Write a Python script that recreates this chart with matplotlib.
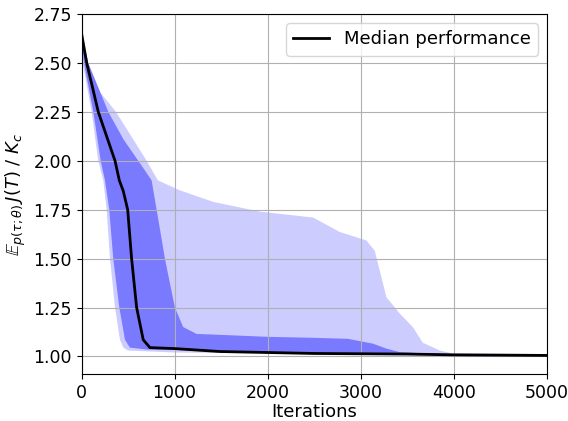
import numpy as np
import matplotlib
matplotlib.use('Agg')
import matplotlib.pyplot as plt

# --- Values ---

# Median performance curve
median_it = [0, 56, 180, 360, 406, 449, 496, 538, 592, 663, 735, 1000, 1486,
             2500, 3500, 4000, 5000]
median_val = [2.65, 2.50, 2.25, 2.00, 1.90, 1.845, 1.75, 1.50, 1.25, 1.085,
              1.045, 1.04, 1.025, 1.015, 1.012, 1.008, 1.005]

# Inner (dark) band, upper and lower edges
inner_hi_it = [0, 73, 288, 450, 610, 753, 807, 896, 1003, 1092, 1236, 1500,
               2005, 2500, 2861, 3132, 3275, 3417, 3700, 4000, 5000]
inner_hi_val = [2.65, 2.50, 2.25, 2.11, 2.00, 1.90, 1.75, 1.50, 1.25, 1.15,
                1.115, 1.11, 1.10, 1.095, 1.09, 1.065, 1.04, 1.022, 1.015,
                1.012, 1.008]
inner_lo_it = [0, 27, 127, 206, 252, 298, 341, 406, 467, 520, 700, 1000, 2000,
               3000, 4000, 5000]
inner_lo_val = [2.62, 2.50, 2.25, 2.00, 1.90, 1.75, 1.50, 1.25, 1.085, 1.045,
                1.035, 1.033, 1.02, 1.013, 1.008, 1.003]

# Outer (light) band, upper and lower edges
outer_hi_it = [0, 70, 200, 370, 700, 820, 1050, 1414, 1916, 2488, 2774, 3060,
               3150, 3203, 3275, 3417, 3559, 3666, 3848, 3989, 5000]
outer_hi_val = [2.70, 2.50, 2.35, 2.25, 2.00, 1.90, 1.85, 1.79, 1.74, 1.71,
                1.636, 1.593, 1.54, 1.44, 1.303, 1.22, 1.15, 1.07, 1.03, 1.015,
                1.012]
outer_lo_it = [0, 13, 109, 180, 234, 270, 306, 360, 413, 449, 500, 1000, 5000]
outer_lo_val = [2.60, 2.50, 2.25, 2.00, 1.90, 1.75, 1.50, 1.25, 1.085, 1.045,
                1.03, 1.02, 1.0]

# --- Plotting section ---

fig = plt.figure(figsize=(5.68, 4.21), dpi=100)
ax = fig.add_axes([0.1435, 0.1116, 0.8195, 0.855])

# Light band first, darker band on top of it
ax.fill(np.concatenate([outer_hi_it, outer_lo_it[::-1]]),
        np.concatenate([outer_hi_val, outer_lo_val[::-1]]),
        color='blue', alpha=0.2, linewidth=0)
ax.fill(np.concatenate([inner_hi_it, inner_lo_it[::-1]]),
        np.concatenate([inner_hi_val, inner_lo_val[::-1]]),
        color='blue', alpha=0.4, linewidth=0)
ax.plot(median_it, median_val, color='black', linewidth=2,
        label='Median performance')

ax.set_xlim(0, 5000)
ax.set_ylim(0.91, 2.75)
ax.set_yticks([1.00, 1.25, 1.50, 1.75, 2.00, 2.25, 2.50, 2.75])
ax.grid(True)

ax.set_xlabel('Iterations', fontsize=13, labelpad=1)
ax.set_ylabel(r'$\mathbb{E}_{p(\tau;\theta)}\,J(T)$ / $K_c$', fontsize=13,
              labelpad=4)
ax.tick_params(labelsize=12.5)
ax.legend(loc='upper right', fontsize=13)

fig.savefig('out.png', dpi=100)
